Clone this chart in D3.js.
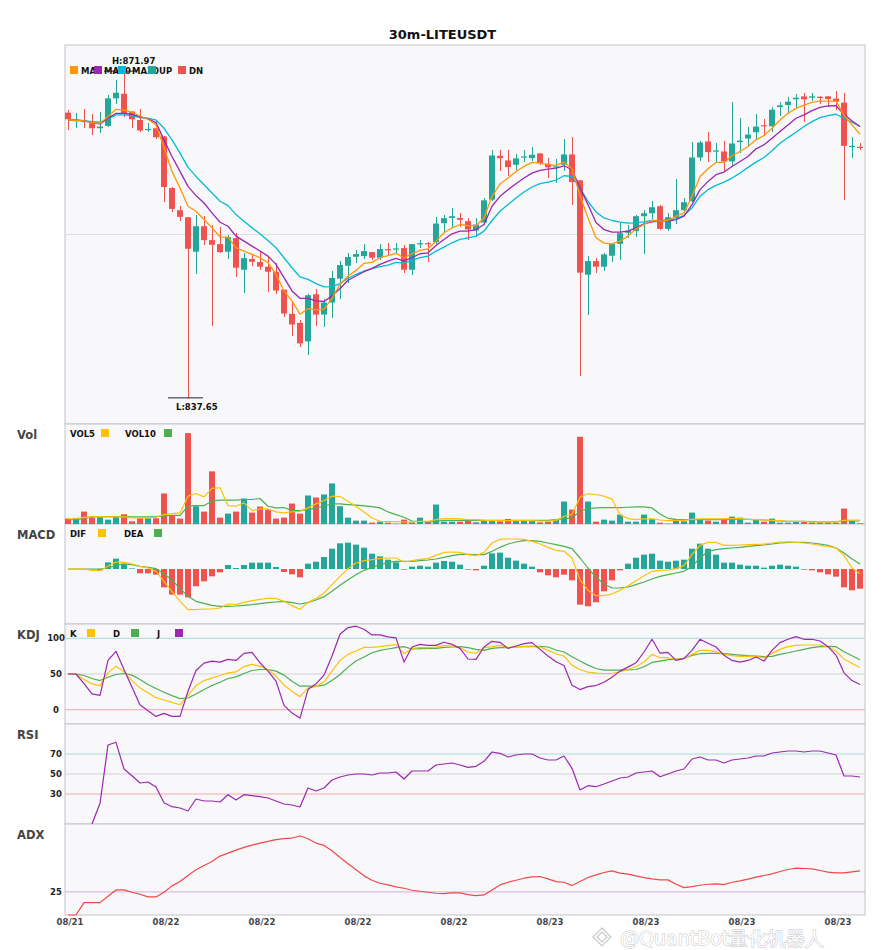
<!DOCTYPE html>
<html>
<head>
<meta charset="utf-8">
<script src="https://cdn.jsdelivr.net/npm/d3@7"></script>
<style>
  body { margin: 0; background: #fff; }
  svg text { font-family: "DejaVu Sans", sans-serif; }
</style>
</head>
<body>
<div id="chart"></div>
<script>
// ---- data ----
const chartTitle = "30m-LITEUSDT";
const dateTickIdx = [0, 12, 24, 36, 48, 60, 72, 84, 96];
const dateTickLabels = ["08/21", "08/22", "08/22", "08/22", "08/22", "08/23", "08/23", "08/23", "08/23"];

const open = [
  867.61, 866.77, 866.81, 866.49, 865.97, 866.22, 869.11, 869.60, 867.72, 866.84,
  865.83, 865.97, 865.10, 859.69, 857.36, 856.62, 853.00, 855.68, 854.22, 853.80,
  853.00, 854.43, 851.11, 852.23, 851.92, 851.43, 850.90, 849.02, 846.47, 845.53,
  843.58, 848.53, 846.40, 847.66, 850.17, 851.53, 852.47, 852.54, 852.96, 852.37,
  853.28, 853.28, 853.38, 851.11, 853.83, 853.90, 854.01, 856.00, 856.55, 856.55,
  856.21, 855.23, 856.07, 858.47, 863.08, 862.59, 862.14, 862.94, 862.83, 863.32,
  862.24, 861.89, 862.14, 863.22, 860.50, 850.59, 852.02, 851.43, 852.58, 853.83,
  854.99, 855.16, 856.73, 857.04, 857.78, 855.40, 856.55, 857.36, 858.30, 862.90,
  864.58, 863.57, 863.53, 862.48, 864.51, 864.89, 865.55, 866.29, 866.18, 868.20,
  868.41, 869.01, 869.32, 869.18, 869.28, 869.32, 869.08, 868.66, 864.05, 864.02
];
const high = [
  867.89, 867.54, 867.99, 867.47, 867.72, 869.46, 871.03, 871.97, 867.79, 867.99,
  866.49, 866.74, 865.20, 859.76, 857.78, 856.66, 856.83, 856.73, 855.79, 855.58,
  854.81, 854.99, 852.89, 852.72, 852.96, 852.54, 851.85, 849.02, 847.83, 845.88,
  848.53, 849.09, 848.04, 850.97, 852.02, 852.86, 853.14, 853.80, 852.96, 853.83,
  853.87, 853.87, 853.69, 853.80, 854.22, 854.04, 856.66, 856.83, 857.57, 857.04,
  856.55, 856.52, 858.65, 863.64, 863.70, 863.70, 863.22, 863.70, 863.95, 863.32,
  862.83, 862.76, 864.89, 865.00, 860.50, 852.54, 852.37, 852.89, 853.94, 856.03,
  855.79, 856.83, 857.36, 858.30, 857.88, 857.08, 860.64, 858.65, 864.51, 864.68,
  865.62, 864.37, 864.58, 868.69, 867.02, 866.15, 867.51, 866.95, 868.24, 868.76,
  869.28, 869.53, 869.63, 869.70, 869.32, 869.32, 869.88, 869.63, 865.00, 864.40
];
const low = [
  865.80, 865.97, 865.97, 865.27, 865.45, 866.08, 868.48, 867.19, 866.04, 865.62,
  865.55, 864.86, 858.23, 857.18, 856.28, 837.65, 850.63, 853.69, 845.15, 852.82,
  852.26, 850.38, 848.71, 851.53, 851.08, 848.74, 848.53, 846.16, 844.17, 842.95,
  842.11, 845.22, 845.05, 846.09, 848.08, 849.75, 851.81, 852.26, 852.12, 852.16,
  852.65, 852.79, 850.76, 850.56, 853.42, 851.95, 853.83, 854.99, 855.58, 855.61,
  854.25, 854.53, 855.79, 858.30, 861.44, 860.91, 861.61, 862.41, 862.48, 862.07,
  860.74, 860.22, 861.44, 857.88, 839.92, 846.37, 850.80, 850.97, 851.95, 852.12,
  854.46, 854.56, 852.72, 856.48, 855.26, 855.16, 855.96, 857.18, 858.23, 862.48,
  862.41, 862.31, 861.44, 862.03, 863.36, 863.95, 864.82, 865.20, 865.55, 867.30,
  867.44, 868.06, 866.67, 868.83, 868.48, 868.24, 867.89, 858.47, 862.83, 863.70
];
const close = [
  866.91, 866.84, 866.63, 865.97, 866.15, 869.11, 869.70, 867.54, 866.91, 865.73,
  865.90, 865.03, 859.80, 857.50, 856.66, 853.31, 855.68, 854.22, 853.73, 852.96,
  854.53, 851.32, 852.33, 851.95, 851.43, 850.90, 848.92, 846.51, 845.36, 843.37,
  848.43, 846.40, 847.66, 850.24, 851.60, 852.44, 852.75, 853.07, 852.37, 853.28,
  853.21, 853.35, 851.11, 853.80, 853.90, 853.83, 855.96, 856.52, 856.73, 856.35,
  855.33, 855.86, 858.40, 863.11, 862.83, 861.89, 862.80, 863.01, 863.18, 862.31,
  861.86, 861.96, 863.22, 860.32, 850.80, 852.02, 851.43, 852.72, 853.80, 854.95,
  855.23, 856.73, 857.04, 857.67, 855.40, 856.62, 857.36, 858.20, 862.90, 864.47,
  863.46, 863.64, 862.48, 864.37, 864.68, 865.31, 866.15, 866.22, 867.92, 868.38,
  868.76, 869.18, 869.01, 869.32, 869.21, 869.04, 868.76, 864.12, 864.12, 863.95
];
const ma5 = [
  866.84, 866.81, 866.74, 866.56, 866.49, 867.19, 867.96, 867.89, 867.65, 867.26,
  866.91, 866.32, 863.95, 861.44, 859.69, 857.78, 857.25, 856.38, 855.51, 854.57,
  854.53, 853.42, 853.07, 852.72, 852.37, 851.85, 850.63, 848.88, 847.83, 846.44,
  847.03, 846.89, 846.96, 848.11, 849.58, 850.45, 851.04, 851.78, 851.88, 852.37,
  852.58, 852.82, 852.37, 852.79, 853.14, 853.31, 854.11, 854.99, 855.51, 855.86,
  855.75, 855.72, 856.55, 858.82, 860.11, 860.74, 861.44, 861.96, 862.38, 862.31,
  862.14, 862.07, 862.41, 861.72, 858.90, 856.55, 854.46, 853.90, 853.83, 854.11,
  854.64, 855.40, 855.86, 856.28, 856.21, 856.28, 856.73, 857.08, 858.82, 860.91,
  861.72, 862.38, 862.38, 863.08, 863.53, 864.05, 864.75, 865.20, 865.97, 866.84,
  867.54, 868.06, 868.41, 868.69, 868.83, 868.83, 868.83, 867.37, 866.32, 865.34
];
const ma10 = [
  866.84, 866.81, 866.74, 866.53, 866.42, 867.02, 867.54, 867.54, 867.44, 867.19,
  866.95, 866.56, 864.75, 863.01, 861.44, 859.87, 858.90, 858.12, 857.08, 856.10,
  855.68, 854.64, 854.11, 853.59, 853.07, 852.54, 851.67, 850.28, 848.88, 848.11,
  848.11, 847.83, 847.77, 848.36, 849.13, 850.00, 850.45, 850.90, 851.25, 851.67,
  852.02, 852.30, 852.02, 852.37, 852.79, 852.89, 853.66, 854.29, 854.88, 855.16,
  855.16, 855.33, 855.86, 857.78, 858.82, 859.52, 860.15, 860.74, 861.26, 861.54,
  861.68, 861.79, 862.03, 861.61, 859.69, 857.95, 856.07, 855.33, 855.05, 855.05,
  855.16, 855.51, 855.93, 856.14, 856.21, 856.21, 856.38, 856.73, 857.95, 859.52,
  860.39, 861.09, 861.37, 861.96, 862.48, 863.01, 863.81, 864.23, 864.93, 865.62,
  866.32, 867.02, 867.37, 867.82, 868.17, 868.31, 868.34, 867.44, 866.74, 866.15
];
const ma20 = [
  866.84, 866.84, 866.77, 866.67, 866.60, 866.95, 867.37, 867.37, 867.30, 867.09,
  867.02, 866.84, 865.97, 864.75, 863.36, 861.86, 860.91, 860.04, 859.17, 858.30,
  857.85, 856.90, 856.21, 855.51, 854.88, 854.18, 853.42, 852.37, 851.32, 850.35,
  850.10, 849.65, 849.30, 849.34, 849.65, 850.21, 850.63, 850.97, 851.22, 851.43,
  851.60, 851.88, 851.81, 852.09, 852.37, 852.54, 853.07, 853.48, 853.94, 854.29,
  854.46, 854.64, 855.16, 856.28, 857.25, 857.95, 858.65, 859.28, 859.80, 860.15,
  860.32, 860.53, 860.98, 860.91, 859.69, 858.30, 857.18, 856.55, 856.28, 856.10,
  856.00, 856.03, 856.14, 856.28, 856.28, 856.35, 856.45, 856.83, 857.60, 858.82,
  859.52, 859.97, 860.32, 860.74, 861.26, 861.86, 862.41, 862.90, 863.60, 864.40,
  864.99, 865.55, 866.15, 866.67, 867.09, 867.30, 867.44, 867.02, 866.60, 866.15
];
const volume = [
  16, 18, 37, 20, 21, 13, 21, 29, 8, 17,
  17, 17, 91, 26, 16, 271, 53, 37, 157, 19,
  31, 37, 76, 34, 52, 43, 16, 19, 61, 31,
  85, 79, 88, 121, 53, 19, 10, 10, 4, 7,
  4, 1, 13, 5, 19, 6, 58, 7, 7, 7,
  11, 5, 11, 10, 8, 15, 10, 10, 10, 5,
  7, 12, 67, 43, 260, 67, 7, 13, 10, 28,
  7, 7, 28, 15, 4, 1, 15, 8, 34, 13,
  10, 7, 13, 22, 19, 4, 13, 7, 16, 4,
  4, 6, 6, 4, 4, 4, 4, 46, 9, 2
];
const vol5 = [
  15, 16, 20, 21, 22, 21, 21, 21, 18, 18,
  18, 20, 28, 31, 33, 83, 91, 81, 106, 108,
  55, 53, 63, 40, 45, 45, 36, 33, 36, 38,
  48, 60, 70, 83, 82, 68, 53, 36, 18, 8,
  7, 7, 6, 6, 8, 8, 13, 16, 16, 15,
  13, 13, 11, 10, 10, 10, 10, 10, 10, 9,
  9, 10, 23, 28, 80, 90, 88, 83, 74, 28,
  16, 13, 15, 15, 12, 10, 11, 11, 14, 15,
  15, 15, 15, 16, 16, 14, 13, 12, 11, 10,
  8, 8, 8, 6, 6, 6, 6, 11, 12, 12
];
const vol10 = [
  13, 14, 16, 22, 22, 22, 22, 22, 21, 21,
  21, 22, 24, 26, 26, 53, 55, 55, 68, 71,
  71, 71, 73, 73, 76, 53, 48, 49, 40, 40,
  43, 48, 53, 60, 60, 58, 56, 54, 52, 48,
  36, 28, 20, 9, 8, 6, 8, 11, 11, 11,
  11, 11, 11, 11, 11, 11, 11, 11, 11, 11,
  11, 13, 16, 18, 38, 46, 48, 49, 49, 49,
  50, 51, 51, 48, 30, 17, 14, 13, 13, 13,
  13, 13, 14, 14, 14, 14, 13, 12, 10, 9,
  8, 8, 8, 7, 6, 6, 7, 9, 9, 9
];
const dif = [
  0, 0, 0, -0.08, -0.10, 0.16, 0.42, 0.40, 0.30, 0.16,
  0.06, -0.14, -0.74, -1.34, -1.94, -2.44, -2.44, -2.40, -2.40, -2.34,
  -2.10, -2.14, -2.00, -1.90, -1.82, -1.76, -1.76, -1.94, -2.20, -2.42,
  -2.00, -1.78, -1.44, -0.94, -0.44, 0.02, 0.36, 0.50, 0.56, 0.62,
  0.66, 0.66, 0.42, 0.50, 0.58, 0.62, 0.82, 1.00, 1.02, 1.00,
  0.86, 0.80, 1.00, 1.56, 1.78, 1.80, 1.80, 1.78, 1.66, 1.50,
  1.30, 1.12, 1.06, 0.66, -0.64, -1.28, -1.60, -1.60, -1.50, -1.28,
  -1.00, -0.70, -0.40, -0.14, -0.08, -0.06, 0.02, 0.20, 0.86, 1.42,
  1.60, 1.60, 1.42, 1.42, 1.44, 1.46, 1.48, 1.50, 1.56, 1.62,
  1.62, 1.60, 1.56, 1.50, 1.42, 1.36, 1.26, 0.80, 0.06, -0.28
];
const dea = [
  0, 0, 0, 0, 0, 0.06, 0.22, 0.30, 0.26, 0.16,
  0.10, 0.02, -0.28, -0.66, -1.16, -1.64, -1.94, -2.06, -2.18, -2.24,
  -2.24, -2.22, -2.18, -2.14, -2.08, -2.02, -1.98, -1.94, -2.02, -2.10,
  -2.02, -1.86, -1.66, -1.34, -0.98, -0.64, -0.34, -0.08, 0.10, 0.26,
  0.38, 0.46, 0.46, 0.46, 0.50, 0.54, 0.60, 0.70, 0.80, 0.88,
  0.88, 0.86, 0.86, 1.06, 1.30, 1.50, 1.62, 1.70, 1.70, 1.66,
  1.56, 1.46, 1.36, 1.22, 0.66, 0.06, -0.50, -0.90, -1.14, -1.14,
  -1.08, -0.94, -0.78, -0.60, -0.44, -0.34, -0.24, -0.14, 0.16, 0.66,
  1.06, 1.16, 1.22, 1.26, 1.30, 1.36, 1.40, 1.44, 1.50, 1.56,
  1.60, 1.60, 1.60, 1.56, 1.50, 1.42, 1.26, 0.96, 0.60, 0.30
];
const macdHist = [
  0, 0, 0, -0.02, -0.08, 0.40, 0.62, 0.32, 0.04, -0.26,
  -0.26, -0.34, -1.10, -1.54, -1.54, -1.70, -1.04, -0.74, -0.44, -0.20,
  0.24, 0.06, 0.24, 0.38, 0.38, 0.38, 0.12, -0.18, -0.32, -0.50,
  0.32, 0.44, 0.72, 1.22, 1.54, 1.58, 1.46, 1.28, 0.92, 0.76,
  0.56, 0.40, -0.04, 0.14, 0.20, 0.14, 0.38, 0.48, 0.44, 0.26,
  -0.04, -0.08, 0.20, 0.94, 0.98, 0.68, 0.50, 0.32, 0.14, -0.20,
  -0.38, -0.50, -0.34, -0.68, -2.14, -2.24, -2.00, -1.34, -0.68, -0.08,
  0.32, 0.68, 0.86, 0.92, 0.50, 0.44, 0.50, 0.56, 1.22, 1.52,
  1.22, 0.86, 0.38, 0.38, 0.26, 0.20, 0.20, 0.08, 0.20, 0.26,
  0.20, 0.14, -0.04, -0.08, -0.20, -0.32, -0.46, -1.10, -1.28, -1.18
];
const kLine = [
  50, 50, 42.3, 36.2, 33.8, 51.6, 61.0, 53.1, 40.8, 30.5,
  23.9, 16.9, 13.6, 10.3, 7.0, 20.2, 33.8, 40.8, 44.6, 47.9,
  51.6, 53.1, 60.6, 63.4, 61.0, 56.3, 46.9, 34.3, 25.8, 18.3,
  30.5, 32.4, 39.0, 54.0, 69.0, 77.5, 82.2, 87.3, 87.3, 88.3,
  89.7, 91.1, 78.4, 85.9, 86.9, 86.9, 87.8, 90.1, 89.2, 86.9,
  80.8, 78.9, 86.9, 88.3, 90.1, 86.9, 87.8, 88.7, 89.2, 87.8,
  83.1, 78.4, 75.1, 62.4, 55.9, 52.6, 51.2, 50.7, 50.7, 53.1,
  56.3, 60.1, 67.1, 77.5, 72.8, 72.8, 70.4, 71.4, 77.5, 83.1,
  83.1, 81.2, 77.5, 75.6, 74.6, 74.6, 74.2, 72.8, 78.9, 84.5,
  88.3, 90.1, 90.6, 90.6, 90.6, 87.8, 82.2, 70.9, 64.8, 59.2
];
const dLine = [
  50, 50, 47.9, 43.7, 40.8, 45.5, 49.3, 50.7, 48.4, 42.3,
  35.2, 29.6, 24.4, 19.7, 15.5, 16.4, 22.1, 28.2, 33.8, 38.5,
  43.7, 46.0, 50.7, 54.9, 56.3, 56.3, 54.0, 48.4, 39.9, 32.9,
  32.9, 32.9, 34.3, 40.8, 49.3, 59.6, 68.1, 73.7, 79.8, 83.1,
  85.0, 86.9, 88.3, 85.0, 85.4, 85.9, 85.9, 87.3, 87.8, 88.3,
  86.9, 84.5, 83.1, 85.9, 86.9, 86.9, 87.8, 88.3, 88.3, 88.7,
  87.8, 83.6, 80.8, 74.2, 68.1, 62.4, 57.7, 55.4, 55.4, 55.4,
  55.9, 56.3, 60.1, 66.2, 68.1, 70.0, 70.4, 71.8, 76.1, 78.4,
  78.9, 78.9, 78.4, 77.5, 76.5, 75.6, 75.1, 74.2, 74.6, 77.5,
  79.8, 82.2, 84.5, 86.9, 88.3, 88.7, 88.3, 81.2, 75.6, 70.0
];
const jLine = [
  50, 50, 36.6, 22.1, 20.2, 69.0, 81.7, 56.3, 31.5, 7.0,
  -1.4, -9.4, -5.2, -9.4, -9.4, 25.8, 54.9, 65.3, 68.1, 66.7,
  70.4, 69.0, 78.9, 80.3, 65.7, 54.0, 39.9, 6.1, -4.7, -11.7,
  28.2, 36.2, 48.4, 75.1, 105.6, 115.0, 116.9, 112.7, 104.7, 104.7,
  101.9, 100.5, 66.7, 87.8, 91.5, 90.1, 90.1, 94.4, 91.5, 85.9,
  71.0, 70.4, 87.8, 95.8, 94.4, 85.9, 89.2, 92.5, 93.9, 84.5,
  75.1, 67.1, 62.0, 34.3, 28.2, 32.4, 33.8, 38.5, 45.5, 54.0,
  59.6, 65.7, 80.8, 98.6, 79.3, 80.3, 69.0, 71.8, 83.1, 98.6,
  93.0, 87.8, 76.1, 69.0, 66.7, 69.0, 73.7, 68.1, 83.1, 93.9,
  98.6, 102.3, 98.6, 98.6, 96.2, 88.3, 76.5, 51.6, 40.8, 35.2
];
const rsi = [
  null, null, null, 0, 20.7, 79, 81.7, 55, 48.3, 41,
  42, 37, 21.3, 17.3, 16, 13, 25, 23, 23, 22,
  29.3, 24, 29.3, 28.3, 27.3, 26, 23, 20, 19, 17,
  36, 33, 36, 44, 47, 49, 50, 50, 49, 51,
  51, 52, 45, 53, 53, 53, 59, 60, 61, 59,
  56.7, 57.7, 62.7, 72, 70.7, 67, 69, 70, 70, 66,
  64, 64, 68, 55.7, 34, 38.3, 37.3, 40, 43, 46,
  47, 51, 52, 53, 47.3, 50, 53, 55, 65, 67,
  64, 64, 61, 64, 65, 66, 68, 68, 71, 72,
  73, 73, 72, 73, 73, 71, 69, 48, 48, 47
];
const adx = [
  15.0, 15.0, 20.35, 20.35, 20.35, 23.1, 25.86, 25.86, 24.85, 23.98,
  22.82, 22.82, 24.85, 27.6, 29.48, 32.09, 34.56, 36.44, 38.18, 40.5,
  41.8, 43.11, 44.27, 45.28, 46.15, 46.87, 47.6, 48.03, 48.32, 49.19,
  48.03, 46.15, 45.14, 42.82, 39.92, 37.16, 34.56, 31.95, 30.06, 28.76,
  28.03, 27.16, 26.58, 25.71, 25.28, 24.85, 24.41, 24.27, 24.56, 24.56,
  23.83, 23.4, 23.69, 25.86, 28.03, 29.19, 30.06, 30.93, 31.51, 31.66,
  30.64, 29.48, 29.19, 27.74, 29.48, 31.22, 32.38, 33.4, 34.12, 33.11,
  32.67, 31.95, 31.22, 30.64, 30.21, 30.21, 28.32, 26.87, 27.31, 27.89,
  28.32, 28.47, 28.18, 29.19, 29.77, 30.5, 31.37, 32.09, 32.82, 33.83,
  34.7, 35.28, 35.13, 34.99, 34.27, 33.54, 33.25, 33.25, 33.69, 34.12
];

// ---- layout ----
const W = 885, H = 950;
const plotL = 65, plotR = 865;
const panels = {
  main: [45, 424], vol: [424, 524], macd: [524, 624],
  kdj: [624, 724], rsi: [724, 824], adx: [824, 915]
};
const col = {
  up: "#26a69a", dn: "#ef5350", ma5: "#ff9800", ma10: "#9c27b0", ma20: "#00bcd4",
  yel: "#ffc107", grn: "#4caf50", pur: "#9c27b0", adx: "#f04848",
  gridHi: "#a6d9d6", gridMid: "#d2d2d6", gridLo: "#f3a9a9", gridAdx: "#d9a8e6"
};

const N = close.length;
const svg = d3.select("#chart").append("svg")
  .attr("width", W).attr("height", H);

const x = d3.scalePoint().domain(d3.range(N)).range([68, 860]);

// panel backgrounds
Object.values(panels).forEach(([t, b]) => {
  svg.append("rect")
    .attr("x", plotL).attr("y", t)
    .attr("width", plotR - plotL).attr("height", b - t)
    .attr("fill", "#f8f8fb")
    .attr("stroke", "#c4c4ca").attr("stroke-width", 1);
});

svg.append("text")
  .attr("x", W / 2).attr("y", 39)
  .attr("text-anchor", "middle")
  .attr("font-size", 13).attr("font-weight", "bold").attr("fill", "#111")
  .text(chartTitle);

// panel names on the left
[["Vol", "vol"], ["MACD", "macd"], ["KDJ", "kdj"], ["RSI", "rsi"], ["ADX", "adx"]].forEach(([name, key]) => {
  svg.append("text")
    .attr("x", 17).attr("y", panels[key][0] + 15)
    .attr("font-size", 11.5).attr("font-weight", "bold").attr("fill", "#444")
    .text(name);
});

function hLine(y, color) {
  svg.append("line")
    .attr("x1", plotL).attr("x2", plotR)
    .attr("y1", y).attr("y2", y)
    .attr("stroke", color).attr("stroke-width", 1);
}
function tickLabel(y, txt) {
  svg.append("text")
    .attr("x", 56).attr("y", y + 3)
    .attr("text-anchor", "middle")
    .attr("font-size", 8.5).attr("font-weight", "bold").attr("fill", "#222")
    .text(txt);
}
function drawLine(data, yScale, color, width) {
  svg.append("path")
    .datum(data)
    .attr("fill", "none")
    .attr("stroke", color)
    .attr("stroke-width", width || 1)
    .attr("stroke-linejoin", "round")
    .attr("d", d3.line()
      .defined(d => d != null)
      .x((d, i) => x(i))
      .y(d => yScale(d)));
}
// swatch + label pairs; each later swatch is drawn over the previous label
function legend(items, baseY) {
  items.forEach(it => {
    svg.append("rect")
      .attr("x", it.sx).attr("y", baseY - 8)
      .attr("width", 8).attr("height", 8)
      .attr("fill", it.color);
    svg.append("text")
      .attr("x", it.tx).attr("y", baseY)
      .attr("font-size", 8.5).attr("font-weight", "bold").attr("fill", "#111")
      .text(it.text);
  });
}

// ---- main candle panel ----
const lo = d3.min(low), hi = d3.max(high);
const pad = (hi - lo) * 0.08;
const yMain = d3.scaleLinear()
  .domain([lo - pad, hi + pad])
  .range([panels.main[1], panels.main[0]]);

hLine(yMain((lo + hi) / 2), "#dcdce2");

const candles = svg.append("g");
d3.range(N).forEach(i => {
  const c = close[i] >= open[i] ? col.up : col.dn;
  candles.append("line")
    .attr("x1", x(i)).attr("x2", x(i))
    .attr("y1", yMain(high[i])).attr("y2", yMain(low[i]))
    .attr("stroke", c).attr("stroke-width", 1)
    .attr("shape-rendering", "crispEdges");
  const top = yMain(Math.max(open[i], close[i]));
  const bot = yMain(Math.min(open[i], close[i]));
  candles.append("rect")
    .attr("x", x(i) - 3).attr("width", 6)
    .attr("y", top).attr("height", Math.max(1.2, bot - top))
    .attr("fill", c);
});

drawLine(ma20, yMain, col.ma20, 1.3);
drawLine(ma10, yMain, col.ma10, 1.3);
drawLine(ma5, yMain, col.ma5, 1.3);

// high / low markers
const hiIdx = high.indexOf(hi), loIdx = low.indexOf(lo);
svg.append("line")
  .attr("x1", x(hiIdx) - 20).attr("x2", x(hiIdx) + 13)
  .attr("y1", yMain(hi)).attr("y2", yMain(hi))
  .attr("stroke", "#222").attr("stroke-width", 1);
svg.append("text")
  .attr("x", x(hiIdx) - 12).attr("y", yMain(hi) - 7)
  .attr("font-size", 8.5).attr("font-weight", "bold").attr("fill", "#111")
  .text("H:" + hi.toFixed(2));
svg.append("line")
  .attr("x1", x(loIdx) - 20).attr("x2", x(loIdx) + 15)
  .attr("y1", yMain(lo)).attr("y2", yMain(lo))
  .attr("stroke", "#222").attr("stroke-width", 1);
svg.append("text")
  .attr("x", x(loIdx) - 12).attr("y", yMain(lo) + 12)
  .attr("font-size", 8.5).attr("font-weight", "bold").attr("fill", "#111")
  .text("L:" + lo.toFixed(2));

legend([
  { sx: 70, tx: 81, color: col.ma5, text: "MA5" },
  { sx: 94, tx: 104, color: col.ma10, text: "MA10" },
  { sx: 118, tx: 132, color: col.ma20, text: "MA20" },
  { sx: 148, tx: 159, color: col.up, text: "UP" },
  { sx: 178, tx: 189, color: col.dn, text: "DN" }
], 74);

// ---- volume ----
const yVol = d3.scaleLinear()
  .domain([0, d3.max(volume) * 1.1])
  .range([panels.vol[1], panels.vol[0]]);
svg.append("g").selectAll("rect")
  .data(volume)
  .join("rect")
  .attr("x", (d, i) => x(i) - 3).attr("width", 6)
  .attr("y", d => yVol(d))
  .attr("height", d => yVol(0) - yVol(d))
  .attr("fill", (d, i) => close[i] >= open[i] ? col.up : col.dn);
drawLine(vol10, yVol, col.grn, 1.2);
drawLine(vol5, yVol, col.yel, 1.2);
legend([
  { tx: 70, sx: 101, color: col.yel, text: "VOL5" },
  { tx: 125, sx: 164, color: col.grn, text: "VOL10" }
], 437);

// ---- MACD ----
const yMacd = d3.scaleLinear()
  .domain([-3.30, 2.70])
  .range([panels.macd[1], panels.macd[0]]);
svg.append("g").selectAll("rect")
  .data(macdHist)
  .join("rect")
  .attr("x", (d, i) => x(i) - 3).attr("width", 6)
  .attr("y", d => yMacd(Math.max(0, d)))
  .attr("height", d => Math.abs(yMacd(d) - yMacd(0)))
  .attr("fill", d => d >= 0 ? col.up : col.dn);
drawLine(dea, yMacd, col.grn, 1.2);
drawLine(dif, yMacd, col.yel, 1.2);
legend([
  { tx: 70, sx: 98, color: col.yel, text: "DIF" },
  { tx: 124, sx: 154, color: col.grn, text: "DEA" }
], 537);

// ---- KDJ ----
const yKdj = d3.scaleLinear().domain([-20, 120]).range([panels.kdj[1], panels.kdj[0]]);
hLine(yKdj(100), col.gridHi);
hLine(yKdj(50), col.gridMid);
hLine(yKdj(0), col.gridLo);
[100, 50, 0].forEach(v => tickLabel(yKdj(v), v));
drawLine(dLine, yKdj, col.grn, 1.2);
drawLine(kLine, yKdj, col.yel, 1.2);
drawLine(jLine, yKdj, col.pur, 1.2);
legend([
  { tx: 70, sx: 87, color: col.yel, text: "K" },
  { tx: 113, sx: 131, color: col.grn, text: "D" },
  { tx: 157, sx: 175, color: col.pur, text: "J" }
], 637);

// ---- RSI ----
const yRsi = d3.scaleLinear().domain([0, 100]).range([panels.rsi[1], panels.rsi[0]]);
hLine(yRsi(70), col.gridHi);
hLine(yRsi(50), col.gridMid);
hLine(yRsi(30), col.gridLo);
[70, 50, 30].forEach(v => tickLabel(yRsi(v), v));
drawLine(rsi, yRsi, col.pur, 1.2);

// ---- ADX ----
const yAdx = d3.scaleLinear().domain([15, 54.4]).range([panels.adx[1], panels.adx[0]]);
hLine(yAdx(25), col.gridAdx);
tickLabel(yAdx(25), 25);
drawLine(adx, yAdx, col.adx, 1.2);

// ---- date axis ----
dateTickIdx.forEach((idx, k) => {
  svg.append("text")
    .attr("x", x(idx) + 2).attr("y", 925)
    .attr("text-anchor", "middle")
    .attr("font-size", 8.5).attr("font-weight", "bold").attr("fill", "#444")
    .text(dateTickLabels[k]);
});

// ---- watermark (kept just under the date labels) ----
const wm = svg.append("g").attr("opacity", 0.9);
wm.append("path")
  .attr("d", "M602,928 L611,937 L602,946 L593,937 Z M602,932 L607,937 L602,942 L597,937 Z")
  .attr("fill", "#fff").attr("stroke", "#c4c4c4").attr("stroke-width", 1.2);
wm.append("text")
  .attr("x", 620).attr("y", 945)
  .attr("font-family", "'Noto Sans CJK SC', 'Noto Sans', sans-serif")
  .attr("font-size", 19)
  .attr("fill", "#fff")
  .attr("stroke", "#c2c2c2").attr("stroke-width", 1)
  .attr("paint-order", "stroke")
  .attr("paint-order", "stroke")
  .text("@QuantBot量化机器人");
</script>
</body>
</html>
